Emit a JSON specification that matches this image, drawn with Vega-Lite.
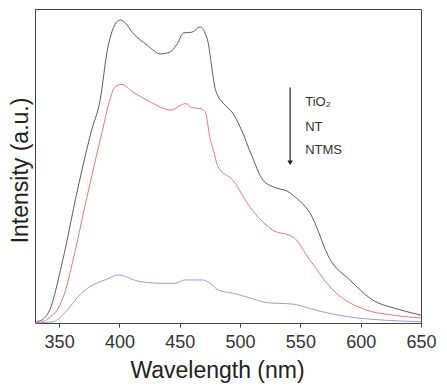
{
  "$schema": "https://vega.github.io/schema/vega-lite/v6.json",
  "autosize": "none",
  "width": 386,
  "height": 314,
  "padding": {"left": 35, "top": 9, "right": 26, "bottom": 67},
  "config": {
    "view": {"stroke": "#444444", "strokeWidth": 1},
    "font": "Liberation Sans"
  },
  "datasets": {
    "spectra": [
      {"wl": 330, "intensity": 0, "sample": "TiO2"},
      {"wl": 331, "intensity": 0.3, "sample": "TiO2"},
      {"wl": 336, "intensity": 1, "sample": "TiO2"},
      {"wl": 342, "intensity": 4, "sample": "TiO2"},
      {"wl": 353, "intensity": 20, "sample": "TiO2"},
      {"wl": 365, "intensity": 42, "sample": "TiO2"},
      {"wl": 377, "intensity": 61.5, "sample": "TiO2"},
      {"wl": 384, "intensity": 71, "sample": "TiO2"},
      {"wl": 390, "intensity": 87, "sample": "TiO2"},
      {"wl": 394, "intensity": 93, "sample": "TiO2"},
      {"wl": 398, "intensity": 96, "sample": "TiO2"},
      {"wl": 401, "intensity": 96.5, "sample": "TiO2"},
      {"wl": 405, "intensity": 95.5, "sample": "TiO2"},
      {"wl": 411, "intensity": 92.4, "sample": "TiO2"},
      {"wl": 423, "intensity": 88.5, "sample": "TiO2"},
      {"wl": 434, "intensity": 85.7, "sample": "TiO2"},
      {"wl": 442, "intensity": 86.3, "sample": "TiO2"},
      {"wl": 448, "intensity": 89, "sample": "TiO2"},
      {"wl": 453, "intensity": 92.4, "sample": "TiO2"},
      {"wl": 460, "intensity": 92.6, "sample": "TiO2"},
      {"wl": 467, "intensity": 94.3, "sample": "TiO2"},
      {"wl": 471, "intensity": 92.3, "sample": "TiO2"},
      {"wl": 473.7, "intensity": 89, "sample": "TiO2"},
      {"wl": 476.5, "intensity": 81.6, "sample": "TiO2"},
      {"wl": 479, "intensity": 75.3, "sample": "TiO2"},
      {"wl": 482, "intensity": 72, "sample": "TiO2"},
      {"wl": 486, "intensity": 70, "sample": "TiO2"},
      {"wl": 494, "intensity": 66.8, "sample": "TiO2"},
      {"wl": 500, "intensity": 62.5, "sample": "TiO2"},
      {"wl": 510, "intensity": 53, "sample": "TiO2"},
      {"wl": 519, "intensity": 45.5, "sample": "TiO2"},
      {"wl": 530, "intensity": 43, "sample": "TiO2"},
      {"wl": 539, "intensity": 42, "sample": "TiO2"},
      {"wl": 546, "intensity": 40, "sample": "TiO2"},
      {"wl": 558, "intensity": 35, "sample": "TiO2"},
      {"wl": 575, "intensity": 20, "sample": "TiO2"},
      {"wl": 591, "intensity": 13.7, "sample": "TiO2"},
      {"wl": 610, "intensity": 7.3, "sample": "TiO2"},
      {"wl": 630, "intensity": 4.5, "sample": "TiO2"},
      {"wl": 650, "intensity": 2.5, "sample": "TiO2"},

      {"wl": 330, "intensity": 0, "sample": "NT"},
      {"wl": 337, "intensity": 0.5, "sample": "NT"},
      {"wl": 343, "intensity": 2, "sample": "NT"},
      {"wl": 348, "intensity": 4, "sample": "NT"},
      {"wl": 355, "intensity": 10, "sample": "NT"},
      {"wl": 361.5, "intensity": 20, "sample": "NT"},
      {"wl": 373, "intensity": 40, "sample": "NT"},
      {"wl": 386, "intensity": 61.5, "sample": "NT"},
      {"wl": 392, "intensity": 71, "sample": "NT"},
      {"wl": 396, "intensity": 75, "sample": "NT"},
      {"wl": 401.9, "intensity": 76, "sample": "NT"},
      {"wl": 411, "intensity": 73.6, "sample": "NT"},
      {"wl": 425, "intensity": 70.5, "sample": "NT"},
      {"wl": 443, "intensity": 67.8, "sample": "NT"},
      {"wl": 451, "intensity": 69.4, "sample": "NT"},
      {"wl": 455, "intensity": 69.9, "sample": "NT"},
      {"wl": 460, "intensity": 68.6, "sample": "NT"},
      {"wl": 467, "intensity": 68.3, "sample": "NT"},
      {"wl": 471, "intensity": 67.3, "sample": "NT"},
      {"wl": 473, "intensity": 63.9, "sample": "NT"},
      {"wl": 474.5, "intensity": 60, "sample": "NT"},
      {"wl": 477.9, "intensity": 55, "sample": "NT"},
      {"wl": 481.8, "intensity": 49.7, "sample": "NT"},
      {"wl": 494, "intensity": 45.5, "sample": "NT"},
      {"wl": 508, "intensity": 37, "sample": "NT"},
      {"wl": 527, "intensity": 29.6, "sample": "NT"},
      {"wl": 544, "intensity": 27.4, "sample": "NT"},
      {"wl": 558, "intensity": 20, "sample": "NT"},
      {"wl": 577, "intensity": 10.5, "sample": "NT"},
      {"wl": 605, "intensity": 4.1, "sample": "NT"},
      {"wl": 625, "intensity": 2.6, "sample": "NT"},
      {"wl": 650, "intensity": 1.6, "sample": "NT"},

      {"wl": 330, "intensity": 0, "sample": "NTMS"},
      {"wl": 345, "intensity": 0.4, "sample": "NTMS"},
      {"wl": 356.5, "intensity": 4, "sample": "NTMS"},
      {"wl": 366, "intensity": 8.5, "sample": "NTMS"},
      {"wl": 375.6, "intensity": 11.6, "sample": "NTMS"},
      {"wl": 390, "intensity": 14, "sample": "NTMS"},
      {"wl": 399, "intensity": 15.3, "sample": "NTMS"},
      {"wl": 417, "intensity": 13.2, "sample": "NTMS"},
      {"wl": 439, "intensity": 12.6, "sample": "NTMS"},
      {"wl": 447, "intensity": 12.7, "sample": "NTMS"},
      {"wl": 454, "intensity": 13.7, "sample": "NTMS"},
      {"wl": 469, "intensity": 13.7, "sample": "NTMS"},
      {"wl": 475, "intensity": 12.7, "sample": "NTMS"},
      {"wl": 482, "intensity": 10.5, "sample": "NTMS"},
      {"wl": 494, "intensity": 9.5, "sample": "NTMS"},
      {"wl": 508, "intensity": 8, "sample": "NTMS"},
      {"wl": 522, "intensity": 6.5, "sample": "NTMS"},
      {"wl": 544, "intensity": 6, "sample": "NTMS"},
      {"wl": 563.6, "intensity": 4, "sample": "NTMS"},
      {"wl": 591, "intensity": 1.9, "sample": "NTMS"},
      {"wl": 620, "intensity": 0.9, "sample": "NTMS"},
      {"wl": 650, "intensity": 0.4, "sample": "NTMS"}
    ],
    "labels": [
      {"wl": 554, "intensity": 70.5, "text": "TiO₂"},
      {"wl": 554, "intensity": 62.5, "text": "NT"},
      {"wl": 554, "intensity": 55, "text": "NTMS"}
    ],
    "arrow": [
      {"wl": 541.5, "top": 75, "bottom": 51}
    ]
  },
  "layer": [
    {
      "data": {"name": "spectra"},
      "mark": {"type": "line", "strokeWidth": 0.9, "interpolate": "monotone"},
      "encoding": {
        "x": {
          "field": "wl", "type": "quantitative",
          "scale": {"domain": [330, 650], "nice": false, "zero": false},
          "axis": {
            "title": "Wavelength (nm)",
            "values": [350, 375, 400, 425, 450, 475, 500, 525, 550, 575, 600, 625, 650],
            "labelExpr": "datum.value % 50 === 0 ? datum.label : ''",
            "grid": false,
            "domainColor": "#444444",
            "tickColor": "#444444",
            "tickSize": 4,
            "labelFontSize": 18,
            "labelColor": "#333333",
            "labelPadding": 6,
            "labelFont": "Liberation Sans",
            "labelFlush": false,
            "titleFont": "Liberation Sans",
            "titleFontSize": 23,
            "titleFontWeight": "normal",
            "titleColor": "#222222",
            "titleX": 182,
            "titleY": 54,
            "titleBaseline": "alphabetic"
          }
        },
        "y": {
          "field": "intensity", "type": "quantitative",
          "scale": {"domain": [0, 100], "nice": false},
          "axis": {
            "title": "Intensity (a.u.)",
            "labels": false,
            "ticks": false,
            "grid": false,
            "domainColor": "#444444",
            "titleFont": "Liberation Sans",
            "titleFontSize": 23,
            "titleFontWeight": "normal",
            "titleColor": "#222222",
            "titleAngle": -90,
            "titleX": -8,
            "titleY": 161,
            "titleAlign": "center",
            "titleBaseline": "alphabetic"
          }
        },
        "color": {
          "field": "sample", "type": "nominal",
          "scale": {"domain": ["TiO2", "NT", "NTMS"], "range": ["#4a4a4a", "#e56a6a", "#9090dc"]},
          "legend": null
        },
        "detail": {"field": "sample"}
      }
    },
    {
      "data": {"name": "arrow"},
      "mark": {"type": "rule", "color": "#222222", "strokeWidth": 1.2},
      "encoding": {
        "x": {"field": "wl", "type": "quantitative"},
        "y": {"field": "top", "type": "quantitative"},
        "y2": {"field": "bottom"}
      }
    },
    {
      "data": {"name": "arrow"},
      "mark": {"type": "point", "shape": "triangle-down", "filled": true, "fill": "#222222", "stroke": null, "size": 30, "opacity": 1},
      "encoding": {
        "x": {"field": "wl", "type": "quantitative"},
        "y": {"field": "bottom", "type": "quantitative"}
      }
    },
    {
      "data": {"name": "labels"},
      "mark": {"type": "text", "align": "left", "baseline": "middle", "fontSize": 13, "font": "Liberation Sans", "fill": "#333333"},
      "encoding": {
        "x": {"field": "wl", "type": "quantitative"},
        "y": {"field": "intensity", "type": "quantitative"},
        "text": {"field": "text"}
      }
    }
  ]
}
